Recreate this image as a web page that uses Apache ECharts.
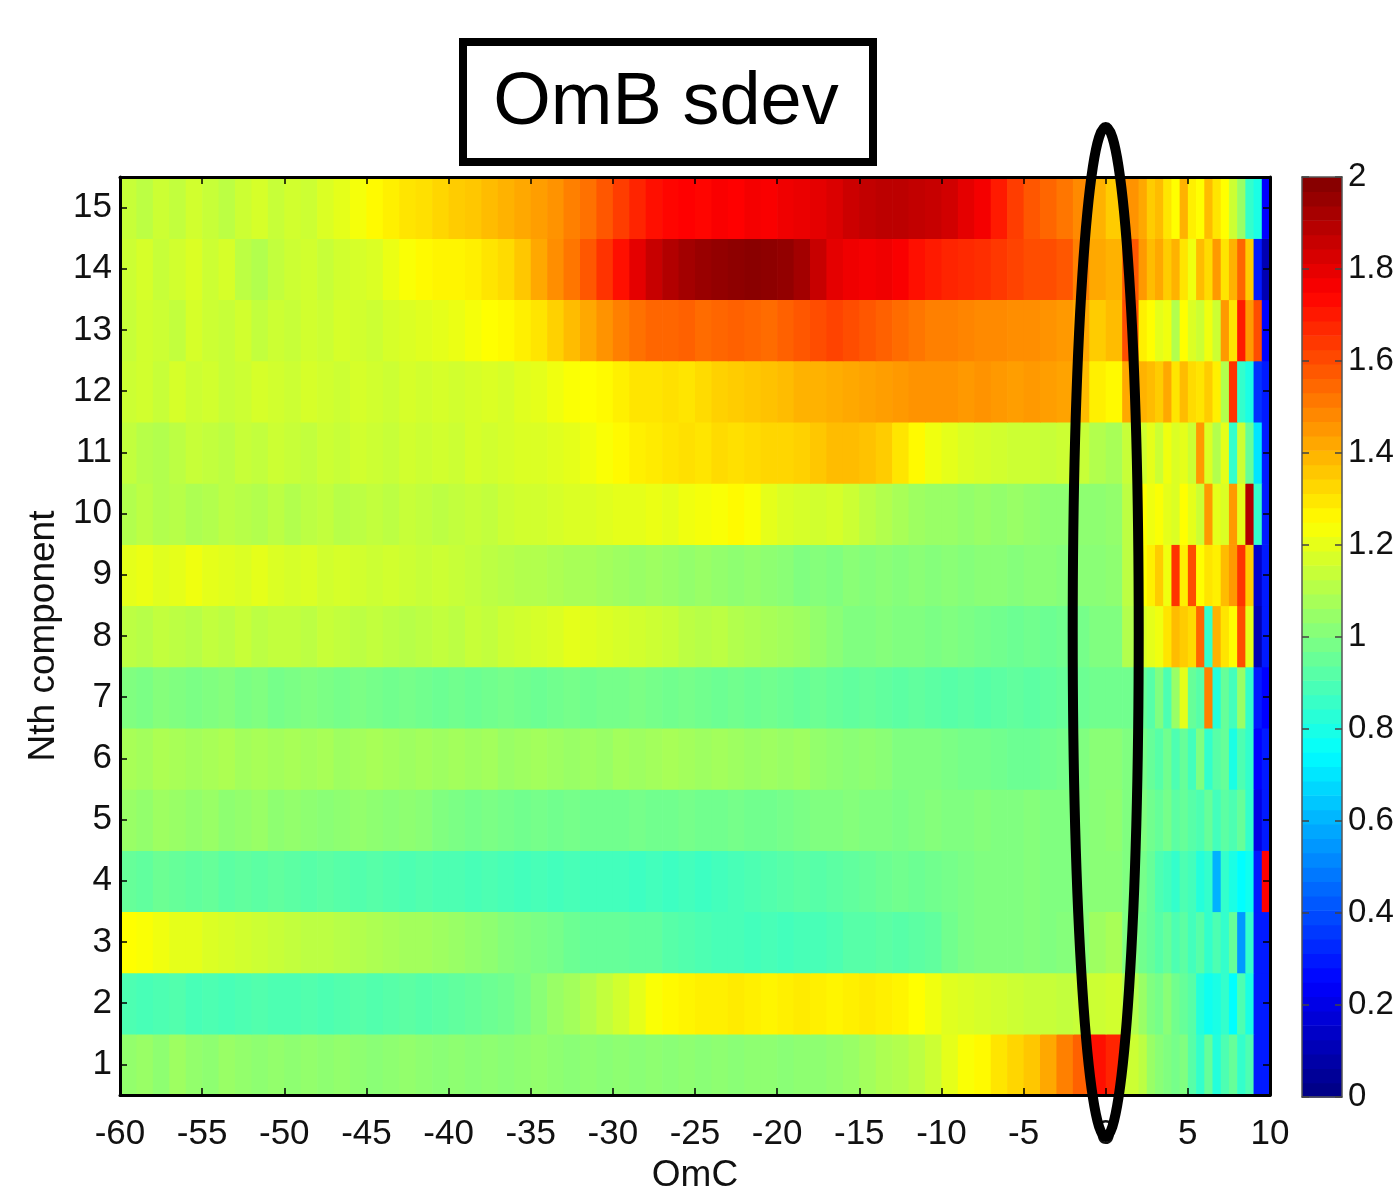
<!DOCTYPE html>
<html><head><meta charset="utf-8">
<script src="https://cdn.jsdelivr.net/npm/echarts@6/dist/echarts.min.js"></script>
<style>html,body{margin:0;padding:0;background:#fff}#c{width:1400px;height:1188px}</style>
</head><body><div id="c"></div>
<script>
// ---- categories / ticks ----
const rowLabels = ['1','2','3','4','5','6','7','8','9','10','11','12','13','14','15'];
const xMin = -60, xMax = 10, xStep = 5;
const cbMin = 0, cbMax = 2, cbStep = 0.2;
// bins: 1-unit from -60 to 2, then 0.5-unit from 2 to 10
const coarseFrom = -60, coarseTo = 2, fineTo = 10;

// ---- values per component (62 coarse bins, then 16 fine bins) ----
const row15 = [1.14,1.12,1.15,1.13,1.16,1.14,1.12,1.15,1.17,1.14, 1.16,1.15,1.18,1.2,1.23,1.26,1.28,1.3,1.31,1.33,
 1.35,1.36,1.38,1.4,1.42,1.44,1.46,1.5,1.53,1.58, 1.63,1.68,1.72,1.74,1.75,1.74,1.76,1.75,1.77,1.76,
 1.78,1.79,1.8,1.82,1.85,1.87,1.88,1.88,1.87,1.86, 1.84,1.8,1.77,1.7,1.63,1.58,1.55,1.52,1.48,1.4, 1.35,1.46,
 1.42,1.35,1.38,1.3,1.25,1.4,1.28,1.25,1.38,1.3,1.25,1.15,1.05,0.85,0.8,0.25];
const row14 = [1.15,1.17,1.14,1.16,1.18,1.15,1.17,1.12,1.1,1.13, 1.15,1.16,1.14,1.16,1.17,1.18,1.21,1.24,1.26,1.27,
 1.27,1.28,1.3,1.32,1.36,1.42,1.47,1.52,1.58,1.65, 1.72,1.8,1.86,1.9,1.93,1.95,1.96,1.97,1.98,1.97,
 1.96,1.93,1.86,1.8,1.78,1.77,1.78,1.76,1.72,1.7, 1.68,1.67,1.66,1.64,1.62,1.6,1.6,1.58,1.5,1.42, 1.4,1.58,
 1.45,1.38,1.42,1.35,1.4,1.3,1.22,1.38,1.32,1.45,1.3,1.4,1.55,1.35,0.3,0.1];
const row13 = [1.14,1.16,1.15,1.13,1.17,1.15,1.14,1.16,1.13,1.15, 1.14,1.16,1.15,1.17,1.16,1.15,1.17,1.18,1.19,1.2,
 1.21,1.23,1.25,1.26,1.28,1.3,1.34,1.38,1.42,1.46, 1.5,1.53,1.55,1.55,1.56,1.54,1.55,1.56,1.55,1.54,
 1.56,1.58,1.6,1.62,1.6,1.58,1.56,1.54,1.52,1.5, 1.5,1.49,1.48,1.48,1.47,1.47,1.46,1.45,1.42,1.35, 1.38,1.6,
 1.28,1.25,1.2,1.22,1.1,1.25,1.18,1.15,1.22,1.15,1.45,1.3,1.7,1.45,1.6,0.25];
const row12 = [1.15,1.16,1.14,1.17,1.15,1.16,1.14,1.15,1.17,1.16, 1.15,1.17,1.16,1.15,1.17,1.16,1.15,1.17,1.16,1.17,
 1.16,1.17,1.18,1.17,1.19,1.2,1.22,1.24,1.25,1.26, 1.28,1.3,1.3,1.31,1.3,1.32,1.34,1.35,1.36,1.37,
 1.38,1.4,1.4,1.41,1.42,1.43,1.44,1.45,1.46,1.46, 1.46,1.45,1.46,1.45,1.44,1.45,1.44,1.43,1.38,1.28, 1.26,1.42,
 1.4,1.38,1.35,1.42,1.3,1.38,1.32,1.3,1.35,1.28,1.1,1.65,0.85,0.8,0.35,0.3];
const row11 = [1.13,1.11,1.1,1.12,1.14,1.13,1.12,1.14,1.13,1.15, 1.14,1.13,1.15,1.14,1.16,1.15,1.14,1.16,1.15,1.16,
 1.15,1.17,1.16,1.17,1.18,1.18,1.19,1.2,1.22,1.24, 1.26,1.28,1.29,1.3,1.31,1.3,1.32,1.31,1.32,1.33,
 1.33,1.34,1.36,1.38,1.38,1.37,1.35,1.3,1.26,1.22, 1.2,1.18,1.17,1.16,1.15,1.15,1.14,1.15,1.14,1.1, 1.08,1.14,
 1.16,1.2,1.15,1.22,1.18,1.2,1.15,1.45,1.18,1.1,1.2,0.85,1.15,0.95,0.7,0.3];
const row10 = [1.1,1.12,1.1,1.11,1.09,1.1,1.12,1.11,1.1,1.12, 1.1,1.12,1.13,1.11,1.12,1.13,1.12,1.14,1.13,1.12,
 1.13,1.14,1.13,1.15,1.16,1.16,1.17,1.18,1.18,1.19, 1.2,1.2,1.21,1.2,1.22,1.23,1.24,1.26,1.24,1.2,
 1.18,1.17,1.16,1.17,1.15,1.12,1.1,1.08,1.06,1.05, 1.05,1.04,1.05,1.04,1.05,1.04,1.03,1.03,1.03,1.03, 1.04,1.12,
 1.25,1.22,1.24,1.2,1.18,1.25,1.2,1.15,1.45,1.2,1.18,1.45,1.2,1.9,0.85,0.3];
const row9 = [1.2,1.21,1.19,1.2,1.22,1.2,1.19,1.18,1.2,1.18, 1.17,1.18,1.16,1.17,1.16,1.15,1.16,1.15,1.14,1.15,
 1.14,1.13,1.12,1.11,1.1,1.1,1.09,1.08,1.08,1.07, 1.06,1.05,1.06,1.05,1.04,1.05,1.04,1.03,1.04,1.03,
 1.02,1.0,1.01,1.0,1.02,1.01,1.02,1.01,1.02,1.01, 1.02,1.01,1.02,1.02,1.01,1.02,1.02,1.01,1.02,1.02, 1.03,1.12,
 1.25,1.28,1.35,1.22,1.65,1.28,1.6,1.25,1.3,1.28,1.38,1.45,1.65,1.35,0.15,0.3];
const row8 = [1.12,1.11,1.13,1.12,1.11,1.13,1.12,1.14,1.12,1.13, 1.13,1.12,1.14,1.13,1.12,1.13,1.12,1.11,1.12,1.13,
 1.12,1.14,1.13,1.15,1.16,1.17,1.18,1.2,1.19,1.18, 1.17,1.16,1.15,1.14,1.12,1.11,1.12,1.1,1.09,1.08,
 1.07,1.06,1.04,1.02,1.0,1.0,1.01,1.0,1.0,0.99, 1.0,0.99,0.98,0.97,0.96,0.97,0.96,0.97,0.98,1.0, 1.0,1.1,
 1.18,1.2,1.22,1.3,1.38,1.35,1.32,1.55,0.85,1.4,1.3,1.25,1.6,1.2,0.1,0.3];
const row7 = [1.0,0.99,1.01,1.0,0.99,1.0,1.01,0.99,1.0,0.98, 0.99,1.0,0.99,0.98,0.99,0.98,0.97,0.98,0.97,0.96,
 0.97,0.96,0.97,0.98,0.97,0.96,0.97,0.98,0.97,0.98, 0.98,0.99,0.98,0.97,0.98,0.97,0.96,0.97,0.96,0.97,
 0.96,0.95,0.96,0.95,0.94,0.95,0.94,0.93,0.94,0.93, 0.92,0.93,0.92,0.93,0.94,0.93,0.94,0.95,0.96,0.97, 0.97,0.97,
 0.95,0.92,1.0,0.9,1.05,1.2,0.95,0.92,1.5,0.82,0.95,0.88,1.05,0.85,0.3,0.25];
const row6 = [1.08,1.07,1.09,1.08,1.07,1.08,1.09,1.07,1.08,1.07, 1.08,1.07,1.08,1.06,1.07,1.08,1.07,1.06,1.07,1.06,
 1.07,1.06,1.07,1.05,1.06,1.07,1.06,1.05,1.06,1.05, 1.07,1.06,1.07,1.08,1.07,1.06,1.07,1.06,1.05,1.06,
 1.05,1.06,1.04,1.03,1.02,1.03,1.02,1.0,1.0,1.0, 0.99,0.98,0.98,0.97,0.96,0.96,0.97,0.98,1.0,1.02, 1.02,1.0,
 0.98,0.95,0.92,0.97,0.9,0.95,0.88,1.0,0.85,0.92,0.95,0.8,0.9,0.85,0.25,0.3];
const row5 = [1.05,1.04,1.06,1.05,1.04,1.05,1.03,1.04,1.05,1.03, 1.04,1.03,1.02,1.03,1.04,1.03,1.02,1.03,1.02,1.0,
 0.99,0.98,0.99,0.98,0.97,0.98,0.97,0.98,0.97,0.97, 0.97,0.98,0.97,0.97,0.98,0.97,0.97,0.98,0.97,0.97,
 0.98,0.99,1.0,1.0,1.01,1.0,1.0,0.99,1.0,1.01, 1.0,1.0,1.01,1.0,1.0,1.01,1.0,1.0,1.01,1.02, 1.03,1.0,
 1.0,0.97,0.95,0.98,0.93,0.95,0.92,0.9,0.95,0.88,0.93,0.9,0.95,0.85,0.2,0.3];
const row4 = [0.95,0.94,0.96,0.95,0.94,0.95,0.93,0.94,0.93,0.94, 0.93,0.92,0.93,0.92,0.91,0.92,0.91,0.9,0.91,0.9,
 0.9,0.89,0.9,0.89,0.88,0.89,0.88,0.89,0.88,0.88, 0.88,0.87,0.88,0.87,0.88,0.87,0.88,0.89,0.9,0.91,
 0.92,0.93,0.92,0.93,0.94,0.95,0.96,0.97,0.96,0.97, 0.98,0.99,1.0,1.0,1.0,1.01,1.0,1.0,1.01,1.02, 1.02,1.0,
 0.98,0.95,0.9,0.88,0.85,0.9,0.88,0.82,0.85,0.6,0.85,0.8,0.75,0.78,0.3,1.75];
const row3 = [1.25,1.24,1.22,1.2,1.2,1.18,1.17,1.16,1.15,1.14, 1.13,1.12,1.12,1.11,1.1,1.09,1.08,1.07,1.07,1.06,
 1.05,1.04,1.03,1.01,1.0,0.99,0.98,0.96,0.95,0.95, 0.95,0.94,0.94,0.92,0.91,0.9,0.89,0.89,0.88,0.89,
 0.88,0.89,0.89,0.9,0.92,0.92,0.93,0.92,0.93,0.94, 0.97,0.99,1.0,1.0,1.0,1.01,1.0,1.01,1.02,1.06, 1.08,1.0,
 0.97,0.95,0.92,0.95,0.9,0.93,0.88,0.92,0.85,0.9,0.85,0.95,0.55,0.85,0.3,0.3];
const row2 = [0.9,0.89,0.9,0.91,0.89,0.9,0.89,0.9,0.91,0.9, 0.9,0.91,0.9,0.91,0.92,0.91,0.92,0.93,0.92,0.93,
 0.94,0.95,0.96,0.97,0.99,1.02,1.05,1.07,1.1,1.13, 1.16,1.2,1.24,1.26,1.27,1.28,1.28,1.29,1.28,1.27,
 1.28,1.29,1.28,1.27,1.28,1.29,1.28,1.27,1.25,1.22, 1.19,1.18,1.17,1.16,1.15,1.14,1.14,1.13,1.14,1.15, 1.16,1.1,
 1.05,1.0,0.98,1.02,0.97,0.95,0.92,0.82,0.78,0.8,0.85,0.75,0.9,0.8,0.3,0.3];
const row1 = [1.04,1.05,1.03,1.06,1.04,1.03,1.05,1.04,1.03,1.04, 1.03,1.04,1.03,1.04,1.03,1.02,1.03,1.04,1.03,1.02,
 1.03,1.02,1.03,1.02,1.03,1.04,1.03,1.02,1.03,1.02, 1.03,1.02,1.03,1.02,1.03,1.02,1.03,1.02,1.03,1.03,
 1.02,1.03,1.03,1.04,1.05,1.07,1.09,1.1,1.12,1.15, 1.2,1.24,1.26,1.3,1.33,1.36,1.42,1.5,1.56,1.72, 1.68,1.15,
 1.12,1.05,1.02,1.0,0.98,1.0,0.92,0.85,0.95,0.82,0.9,0.95,0.85,0.9,0.3,0.3];
const rows = [row1,row2,row3,row4,row5,row6,row7,row8,row9,row10,row11,row12,row13,row14,row15];

// ---- bin edges ----
const binEdges = [];
for (let v = coarseFrom; v < coarseTo; v += 1) binEdges.push([v, v + 1]);
for (let v = coarseTo; v < fineTo; v += 0.5) binEdges.push([v, v + 0.5]);

const heatData = [];
rows.forEach((vals, r) => {
  vals.forEach((val, j) => { heatData.push([binEdges[j][0], binEdges[j][1], r, val]); });
});

// ---- jet colour map ----
function jet(t) {
  const cl = v => Math.max(0, Math.min(1, v));
  const r = cl(1.5 - Math.abs(4 * t - 3)), g = cl(1.5 - Math.abs(4 * t - 2)), b = cl(1.5 - Math.abs(4 * t - 1));
  return 'rgb(' + Math.round(r * 255) + ',' + Math.round(g * 255) + ',' + Math.round(b * 255) + ')';
}
const jetColors = [];
for (let i = 0; i <= 64; i++) jetColors.push(jet(i / 64));
// colour bar levels (64 steps like MATLAB jet(64))
const cbData = [];
for (let k = 0; k < 64; k++) {
  const lo = cbMin + (cbMax - cbMin) * k / 64, hi = cbMin + (cbMax - cbMin) * (k + 1) / 64;
  cbData.push([0, lo, hi, (lo + hi) / 2]);
}

const FONT = '"Liberation Sans", Arial, Helvetica, sans-serif';
const chart = echarts.init(document.getElementById('c'), null, { renderer: 'canvas' });

const blackLine = { show: true, onZero: false, lineStyle: { color: '#000', width: 3 } };
const cbLine = { show: true, onZero: false, lineStyle: { color: '#555', width: 1.5 } };

const option = {
  animation: false,
  backgroundColor: '#fff',
  grid: [
    { left: 120, top: 177, width: 1150, height: 918, containLabel: false, outerBoundsMode: 'none' },
    { left: 1302, top: 177, width: 40, height: 920, containLabel: false, outerBoundsMode: 'none' }
  ],
  visualMap: {
    type: 'continuous', show: false, min: cbMin, max: cbMax, dimension: 3,
    seriesIndex: [0, 1], inRange: { color: jetColors }
  },
  xAxis: [
    { gridIndex: 0, type: 'value', min: xMin, max: xMax, interval: xStep, position: 'bottom', z: 10,
      axisLine: blackLine, splitLine: { show: false },
      axisTick: { show: true, inside: true, length: 7, lineStyle: { color: '#000', width: 1.5 } },
      axisLabel: { fontSize: 35, color: '#111', fontFamily: FONT, margin: 22 },
      name: 'OmC', nameLocation: 'middle', nameGap: 56,
      nameTextStyle: { fontSize: 37, color: '#111', fontFamily: FONT } },
    { gridIndex: 0, type: 'value', min: xMin, max: xMax, interval: xStep, position: 'top', z: 10,
      axisLine: blackLine, splitLine: { show: false },
      axisTick: { show: true, inside: true, length: 7, lineStyle: { color: '#000', width: 1.5 } },
      axisLabel: { show: false } },
    { gridIndex: 1, type: 'value', min: 0, max: 1, position: 'bottom', z: 10,
      axisLine: cbLine, axisTick: { show: false }, axisLabel: { show: false }, splitLine: { show: false } },
    { gridIndex: 1, type: 'value', min: 0, max: 1, position: 'top', z: 10,
      axisLine: cbLine, axisTick: { show: false }, axisLabel: { show: false }, splitLine: { show: false } }
  ],
  yAxis: [
    { gridIndex: 0, type: 'category', data: rowLabels, position: 'left', z: 10,
      axisLine: blackLine, splitLine: { show: false },
      axisTick: { show: true, inside: true, alignWithLabel: true, length: 7, lineStyle: { color: '#000', width: 1.5 } },
      axisLabel: { fontSize: 35, color: '#111', fontFamily: FONT, margin: 8, interval: 0, padding: [8, 0, 0, 0] },
      name: 'Nth component', nameLocation: 'middle', nameGap: 58, nameRotate: 90,
      nameTextStyle: { fontSize: 37, color: '#111', fontFamily: FONT } },
    { gridIndex: 0, type: 'category', data: rowLabels, position: 'right', z: 10,
      axisLine: blackLine, splitLine: { show: false },
      axisTick: { show: true, inside: true, alignWithLabel: true, length: 7, lineStyle: { color: '#000', width: 1.5 } },
      axisLabel: { show: false } },
    { gridIndex: 1, type: 'value', min: cbMin, max: cbMax, interval: cbStep, position: 'right', z: 10,
      axisLine: cbLine, splitLine: { show: false },
      axisTick: { show: true, inside: true, length: 7, lineStyle: { color: '#444', width: 1.5 } },
      axisLabel: { fontSize: 33, color: '#111', fontFamily: FONT, margin: 6, padding: [6, 0, 0, 0] } },
    { gridIndex: 1, type: 'value', min: cbMin, max: cbMax, interval: cbStep, position: 'left', z: 10,
      axisLine: cbLine, splitLine: { show: false },
      axisTick: { show: true, inside: true, length: 7, lineStyle: { color: '#444', width: 1.5 } },
      axisLabel: { show: false } }
  ],
  series: [
    { type: 'custom', xAxisIndex: 0, yAxisIndex: 0, data: heatData,
      encode: { x: [0, 1], y: 2 },
      renderItem: function (params, api) {
        const yi = api.value(2);
        const p0 = api.coord([api.value(0), yi]);
        const p1 = api.coord([api.value(1), yi]);
        const h = api.size([0, 1])[1];
        return { type: 'rect',
          shape: { x: p0[0], y: p0[1] - h / 2, width: p1[0] - p0[0] + 0.7, height: h + 0.7 },
          style: { fill: api.visual('color') } };
      } },
    { type: 'custom', xAxisIndex: 2, yAxisIndex: 2, data: cbData,
      encode: { x: 0, y: [1, 2] },
      renderItem: function (params, api) {
        const a = api.coord([0, api.value(2)]);
        const b = api.coord([1, api.value(1)]);
        return { type: 'rect',
          shape: { x: a[0], y: a[1], width: b[0] - a[0], height: b[1] - a[1] + 0.7 },
          style: { fill: api.visual('color') } };
      } }
  ]
};
chart.setOption(option);

// annotations: title box and ellipse around OmC = 0
const cx = chart.convertToPixel({ xAxisIndex: 0 }, 0);
chart.setOption({
  graphic: [
    { type: 'rect', shape: { x: 463, y: 42, width: 410, height: 120 },
      style: { fill: '#fff', stroke: '#000', lineWidth: 8 }, z: 100 },
    { type: 'text', x: 666, y: 104,
      style: { text: 'OmB sdev', fontSize: 74, fontFamily: FONT, fill: '#000', align: 'center', verticalAlign: 'middle' }, z: 101 },
    { type: 'ellipse', shape: { cx: cx, cy: 632, rx: 33, ry: 505 },
      style: { fill: 'none', stroke: '#000', lineWidth: 10 }, z: 100 }
  ]
});
</script>
</body></html>
